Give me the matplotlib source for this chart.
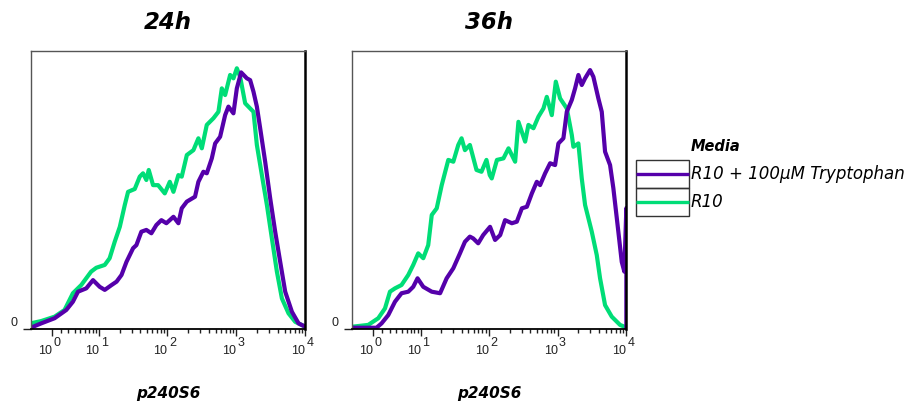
import matplotlib
matplotlib.use("Agg")
import matplotlib.pyplot as plt
from matplotlib.ticker import FixedLocator, NullFormatter
from matplotlib.transforms import ScaledTranslation
from matplotlib.patches import Rectangle

# ============================================================
# DATA  (histograms, % of mode)
# ============================================================

PANELS = ["24h", "36h"]
X_LABEL = "p240S6"
LEGEND_TITLE = "Media"
SERIES_NAMES = ["R10 + 100\u00b5M Tryptophan", "R10"]

# R10 + 100uM Tryptophan, 24h
trp_24h_x = [-1.15, -0.06, 1.32, 2.73, 3.7, 4.57, 6.28, 8.02, 10.15, 12.1,
             15.3, 18.1, 21.4, 25.3, 31.6, 35.3, 41.7, 49.3, 58.3, 68.9,
             81.5, 96.3, 108, 122, 144, 161, 191, 251, 281, 332,
             372, 440, 492, 581, 687, 767, 907, 1016, 1173, 1421,
             1586, 1772, 1985, 2217, 2620, 3098, 3663, 4330, 5119, 6405,
             7990, 10000]
trp_24h_y = [0.5, 2.2, 4.2, 7.4, 10.6, 14.5, 15.8, 19.0, 16.4, 15.2,
             17.1, 18.4, 21.0, 26.1, 31.4, 32.6, 37.8, 38.5, 37.2, 40.4,
             42.3, 41.1, 42.3, 43.6, 41.1, 46.9, 49.5, 51.4, 57.2, 61.1,
             60.5, 66.3, 72.1, 74.7, 83.1, 86.4, 83.8, 93.5, 99.7, 97.4,
             96.7, 92.2, 86.4, 78.0, 65.0, 50.8, 37.8, 26.1, 14.5, 6.7,
             2.2, 0.9]

# R10, 24h
r10_24h_x = [-1.15, -0.06, 1.32, 2.5, 3.7, 5.2, 7.5, 9.0, 12.1, 14.3,
             17.0, 20.2, 23.9, 26.7, 33.4, 39.5, 44.1, 49.3, 53.4, 61.7,
             73, 91.3, 108, 122, 144, 161, 191, 238, 281, 315,
             372, 465, 549, 615, 687, 812, 907, 1016, 1135, 1342,
             1586, 1772, 1985, 2347, 2775, 3279, 3876, 4582, 5716, 7153,
             10000]
r10_24h_y = [2.2, 3.1, 4.8, 7.4, 13.9, 17.1, 22.3, 23.8, 24.9, 27.5,
             33.9, 39.7, 48.2, 53.3, 54.4, 59.2, 60.5, 57.9, 61.8, 55.9,
             55.9, 52.7, 57.2, 53.3, 59.8, 59.2, 67.6, 69.5, 74.1, 70.2,
             79.3, 81.9, 84.4, 93.5, 90.9, 98.7, 97.4, 101.3, 98.0, 87.7,
             85.7, 84.4, 71.5, 59.8, 48.2, 35.2, 22.3, 11.9, 6.1, 2.8,
             0.9]

# R10 + 100uM Tryptophan, 36h
trp_36h_x = [-1.15, 1.35, 1.93, 2.78, 3.78, 4.94, 6.38, 7.65, 8.92, 10.9,
             14.6, 19.4, 24.2, 30.3, 37.9, 44.8, 52.9, 59.1, 69.9, 82.6,
             104, 123, 146, 172, 216, 255, 302, 357, 422, 498,
             556, 658, 778, 919, 1027, 1214, 1360, 1608, 1796, 2005,
             2246, 2509, 2966, 3313, 3916, 4388, 4900, 5795, 6471, 7648,
             8570, 9350, 10000, 10000]
trp_36h_y = [0.5, 0.5, 2.2, 5.4, 10.6, 13.9, 14.5, 16.4, 19.7, 16.4,
             14.5, 13.9, 19.7, 23.6, 29.4, 33.9, 35.9, 35.2, 33.3, 36.5,
             39.7, 34.6, 36.5, 42.3, 41.1, 41.7, 46.9, 47.5, 52.7, 57.2,
             55.9, 60.5, 64.4, 63.7, 72.1, 74.1, 84.4, 89.0, 93.5, 98.7,
             94.8, 97.4, 100.6, 98.0, 89.6, 84.4, 68.9, 63.7, 54.7, 37.8,
             26.1, 22.3, 47.0, 0.0]

# R10, 36h
r10_36h_x = [-1.15, 0.48, 1.545, 2.35, 3.02, 3.78, 4.94, 6.38, 7.65, 9.14,
             10.9, 12.94, 14.6, 17.3, 20.5, 25.6, 30.3, 35.8, 40.0, 44.8,
             52.9, 66.0, 78.0, 92.2, 103, 110, 131, 163, 193, 241,
             269, 337, 376, 445, 526, 622, 696, 823, 941, 1087,
             1360, 1608, 1696, 2005, 2246, 2509, 3141, 3713, 4146, 4900,
             6133, 8096, 9350]
r10_36h_y = [0.9, 1.6, 4.2, 8.0, 14.5, 15.8, 17.1, 21.0, 24.9, 29.4,
             27.5, 32.6, 44.3, 46.9, 55.9, 65.7, 65.0, 71.5, 74.1, 69.5,
             71.5, 61.8, 61.1, 65.7, 59.8, 58.5, 65.7, 66.3, 70.2, 65.0,
             80.5, 72.8, 79.3, 78.0, 82.5, 85.7, 90.2, 83.1, 96.1, 89.6,
             85.7, 75.4, 70.8, 72.1, 58.5, 48.2, 37.8, 28.7, 19.7, 9.3,
             4.8, 1.6, 0.9]

# axis decades and their labels
DECADES = [1, 10, 100, 1000, 10000]
EXPONENTS = ["0", "1", "2", "3", "4"]

# ============================================================
# STYLE
# ============================================================

COLORS = ["#5500AA", "#00DD77"]   # tryptophan, R10
LINE_W = 3.0
LIN_WIDTH = 3.0                   # asinh linear region (FlowJo-like biex axis)
X_MIN, X_MAX = -1.15, 1e4
Y_MAX = 108
TICK_FONT = "Liberation Sans"
TEXT_FONT = "DejaVu Sans"
TICK_COLOR = "#222222"
TICK_SIZE = 9

minor_ticks = [m * d for d in DECADES[:-1] for m in range(2, 10)]

fig = plt.figure(figsize=(9.18, 4.07), dpi=100)

axes = [
    fig.add_axes([0.0334, 0.1916, 0.2991, 0.6830]),
    fig.add_axes([0.3838, 0.1916, 0.2985, 0.6830]),
]

curves = [
    ((r10_24h_x, r10_24h_y), (trp_24h_x, trp_24h_y)),
    ((r10_36h_x, r10_36h_y), (trp_36h_x, trp_36h_y)),
]

shift = ScaledTranslation(-1.2 / 72, 0, fig.dpi_scale_trans)

for ax, title, (r10, trp) in zip(axes, PANELS, curves):

    ax.plot(r10[0], r10[1], color=COLORS[1], lw=LINE_W)
    ax.plot(trp[0], trp[1], color=COLORS[0], lw=LINE_W)

    ax.set_xscale("asinh", linear_width=LIN_WIDTH)
    ax.set_xlim(X_MIN, X_MAX)
    ax.set_ylim(0, Y_MAX)

    # x ticks: "10" as label, exponent as separate raised text
    ax.xaxis.set_major_locator(FixedLocator(DECADES))
    ax.xaxis.set_minor_locator(FixedLocator(minor_ticks))
    ax.xaxis.set_minor_formatter(NullFormatter())
    ax.set_xticklabels(["10"] * len(DECADES), family=TICK_FONT)
    for lab in ax.get_xticklabels():
        lab.set_horizontalalignment("right")
        lab.set_transform(lab.get_transform() + shift)

    for d, e in zip(DECADES, EXPONENTS):
        ax.annotate(e, xy=(d, 0), xycoords=("data", "axes fraction"),
                    xytext=(1, -5.4), textcoords="offset points",
                    ha="left", va="top", fontsize=TICK_SIZE, family=TICK_FONT,
                    color=TICK_COLOR, annotation_clip=False)

    ax.tick_params(axis="x", which="major", length=5, width=1,
                   color=TICK_COLOR, labelsize=TICK_SIZE,
                   labelcolor=TICK_COLOR, pad=6.2)
    ax.tick_params(axis="x", which="minor", length=3, width=1,
                   color=TICK_COLOR)

    # y axis: only the zero tick
    ax.set_yticks([0])
    ax.set_yticklabels(["0"], family=TICK_FONT)
    ax.tick_params(axis="y", length=5.8, width=1, color=TICK_COLOR,
                   labelsize=TICK_SIZE, labelcolor=TICK_COLOR, pad=4)
    for lab in ax.get_yticklabels():
        lab.set_verticalalignment("bottom")

    for side in ["left", "top"]:
        ax.spines[side].set_color("#555555")
        ax.spines[side].set_linewidth(1.0)
    ax.spines["right"].set_color("#000000")
    ax.spines["right"].set_linewidth(1.8)
    ax.spines["bottom"].set_color("#000000")
    ax.spines["bottom"].set_linewidth(1.3)

    ax.set_title(title, fontsize=16.5, fontweight="bold", style="italic",
                 family=TEXT_FONT, pad=16)
    ax.set_xlabel(X_LABEL, fontsize=11, fontweight="bold", style="italic",
                  family=TEXT_FONT)
    ax.xaxis.set_label_coords(0.5, -0.205)

# ============================================================
# LEGEND (boxed rows, FlowJo style)
# ============================================================

leg = fig.add_axes([0.6928, 0.4700, 0.0577, 0.1369])
leg.set_xlim(0, 1)
leg.set_ylim(0, 2)
leg.axis("off")

for row, (name, color) in enumerate(zip(SERIES_NAMES, COLORS)):
    y0 = 1 - row   # first series on top
    leg.add_patch(Rectangle((0, y0), 1, 1, fill=False, edgecolor="#333333",
                            lw=1.0, clip_on=False))
    leg.plot([0, 1], [y0 + 0.5, y0 + 0.5], color=color, lw=2.4,
             solid_capstyle="butt", clip_on=False)
    leg.text(1.03, y0 + 0.5, name, ha="left", va="center", fontsize=12,
             style="italic", family=TEXT_FONT, clip_on=False)

leg.text(1.03, 2.47, LEGEND_TITLE, ha="left", va="center", fontsize=10.5,
         fontweight="bold", style="italic", family=TEXT_FONT, clip_on=False)

fig.savefig("out.png", dpi=100)
